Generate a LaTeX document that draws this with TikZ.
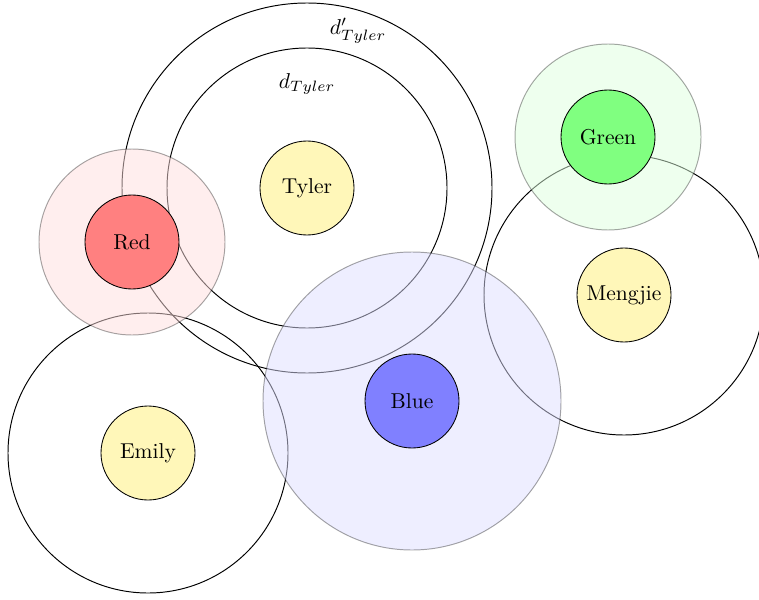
\documentclass[tikz,border=0pt]{standalone}
\definecolor{paleyellow}{RGB}{255,247,185}
\begin{document}
\begin{tikzpicture}[x=0.465pt,y=-0.465pt,
  person/.style={circle,draw=black,fill=paleyellow,minimum size=94*0.465pt,inner sep=0pt},
  colornode/.style={circle,draw=black,minimum size=94*0.465pt,inner sep=0pt},
  rangering/.style={draw=black,line width=0.45pt},
  halo/.style={fill=#1!13,fill opacity=0.5,draw=black,draw opacity=0.35,line width=0.45pt}]
\useasboundingbox (0,0) rectangle (759,599);
\clip (0,0) rectangle (759,599);
% ranges
\coordinate (cT) at (307,188);
\coordinate (cE) at (148,453);
\coordinate (cM) at (624,295);
\draw[rangering] (cT) circle[radius=140];
\draw[rangering] (cT) circle[radius=185];
\draw[rangering] (cE) circle[radius=140];
\draw[rangering] (cM) circle[radius=140];
% halos
\draw[halo=red] (132,242) circle[radius=93];
\draw[halo=green] (608,137) circle[radius=93];
\draw[halo=blue] (412,401) circle[radius=149];
% nodes
\node[person] (tyler) at (cT) {Tyler};
\node[person] (emily) at (cE) {Emily};
\node[person] (mengjie) at (cM) {Mengjie};
\node[colornode,fill=red!50] (red) at (132,242) {Red};
\node[colornode,fill=green!50] (green) at (608,137) {Green};
\node[colornode,fill=blue!50] (blue) at (412,401) {Blue};
% labels
\node (dT) at (307,84) {$d_{Tyler}$};
\node (dTp) at (358,31) {$d'_{Tyler}$};
\end{tikzpicture}
\end{document}
